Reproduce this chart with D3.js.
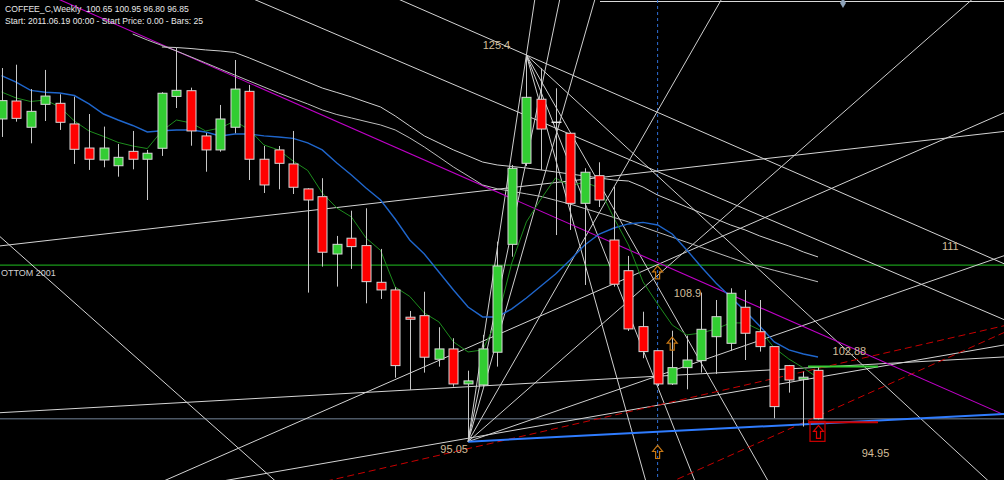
<!DOCTYPE html>
<html>
<head>
<meta charset="utf-8">
<script src="https://cdn.jsdelivr.net/npm/d3@7"></script>
<style>
  html, body { margin: 0; padding: 0; background: #000; }
  svg { display: block; }
</style>
</head>
<body>
<svg id="chart" width="1004" height="480"></svg>
<script>
// ---- Weekly coffee bars (index 0 = leftmost visible week) ----
const opens  = [120.38,121.79,119.73,121.53,121.61,119.99,118.10,117.16,116.71,117.84,
                117.22,118.08,122.15,122.60,119.05,117.95,119.73,122.55,117.22,117.95,
                116.85,114.89,114.28,109.78,111.02,110.44,107.56,106.96,104.82,104.94,
                101.52,102.33,99.58,99.50,102.07,110.54,116.90,121.93,120.12,119.26,
                113.76,115.93,110.88,108.47,104.08,102.19,99.58,100.86,101.41,103.29,
                102.77,105.60,103.68,102.51,101.02,99.95,100.65];
const highs  = [124.38,124.64,122.73,124.23,122.32,122.13,120.77,119.78,118.42,119.44,
                117.95,122.48,125.98,122.84,119.28,121.48,125.01,123.05,118.26,118.26,
                119.44,114.94,115.73,111.20,113.18,113.37,110.18,107.17,105.31,106.82,
                104.03,103.17,100.62,103.43,110.75,116.77,125.40,124.36,122.79,119.26,
                116.51,116.98,115.07,109.63,105.25,102.19,103.76,103.37,106.75,106.17,
                107.09,106.96,106.17,102.51,101.07,100.55,100.95];
const lows   = [118.97,120.17,118.47,120.22,119.52,116.85,116.38,116.59,115.85,116.43,
                114.02,117.48,121.24,118.28,116.24,117.81,119.26,115.59,114.57,114.86,
                114.49,106.75,108.79,107.22,108.61,105.91,106.25,100.07,99.11,100.47,
                100.94,99.37,95.05,99.37,100.94,109.57,116.69,116.38,111.27,111.67,
                107.35,113.47,107.22,103.74,101.60,99.42,99.50,99.16,100.47,100.36,
                102.19,101.46,102.12,96.89,98.90,96.23,96.80];
const closes = [121.82,120.43,120.98,122.18,120.12,118.00,117.22,118.10,117.37,117.22,
                117.69,122.40,122.63,119.44,117.95,120.38,122.73,117.22,115.20,116.90,
                115.02,114.02,109.92,110.54,110.36,107.61,106.96,101.02,104.66,101.68,
                102.33,99.58,99.82,102.33,108.84,116.51,122.08,119.59,120.12,113.76,
                116.20,114.02,107.41,103.90,102.12,99.58,100.86,101.46,103.87,104.86,
                106.70,103.56,102.51,97.80,99.89,100.11,96.85];

// ---- Moving averages ----
const maFast = [122.50,122.03,121.75,121.87,121.32,120.22,119.44,119.01,118.54,118.26,
                118.06,119.44,120.30,120.07,119.44,119.67,120.22,119.52,118.34,117.95,
                117.08,116.34,114.57,113.39,112.69,111.04,110.06,107.19,106.45,105.15,
                104.45,102.88,102.09,102.25,104.60,109.08,112.30,114.10,115.75,115.12,
                115.43,114.96,112.61,110.49,107.59,105.86,104.21,103.43,103.58,103.90,
                104.37,104.37,103.82,102.41,101.54,100.84,100.05];
const maSlow = [123.79,123.28,122.62,122.48,122.42,122.22,121.56,120.77,120.30,119.87,
                119.36,119.46,119.52,119.52,119.36,119.05,119.20,119.20,119.05,118.97,
                118.86,118.50,117.95,116.93,115.98,114.96,114.02,112.53,110.88,109.78,
                108.37,106.96,105.62,104.84,104.84,105.47,106.33,107.27,108.21,109.31,
                110.49,111.35,111.82,112.14,112.26,112.06,111.35,110.10,108.76,107.51,
                106.41,105.31,104.13,102.88,102.25,101.93,101.70];
// long-period averages drawn in white (null = not on screen)
const maLongA = [null,null,null,null,null,null,null,null,null,null,
                 null,126.03,125.99,125.91,125.80,125.72,125.60,125.17,124.70,124.23,
                 123.75,123.28,122.81,122.46,122.11,121.71,121.32,120.62,119.83,119.05,
                 118.50,117.95,117.48,117.00,116.77,116.65,116.53,116.38,116.22,116.06,
                 115.91,115.75,115.59,115.51,115.04,114.41,113.94,113.47,113.00,112.53,
                 112.06,111.67,111.20,110.80,110.41,109.94,109.55];
const maLongB = [null,null,null,null,null,null,null,null,null,
                 127.05,126.58,126.15,125.72,125.25,124.78,124.30,123.83,123.36,122.89,122.42,
                 121.99,121.56,121.09,120.73,120.46,120.18,119.91,119.52,118.89,118.18,
                 117.40,116.61,115.91,115.20,114.90,114.70,114.50,114.30,114.00,113.70,
                 113.35,113.00,112.65,112.30,111.90,111.50,111.10,110.70,110.30,109.90,
                 109.50,109.10,108.80,108.50,108.20,107.90,107.60];

// ---- Drawn objects: trend lines as [bar1, price1, bar2, price2, extendBack, extendForward] ----
const whiteLines = [
  [0.0, 110.43, 68.76, 119.40, true, true],
  [0.0, 97.33, 68.76, 101.70, true, true],
  [0.0, 111.04, 18.55, 92.20, true, true],
  [11.56, 92.18, 68.69, 120.83, true, true],
  [16.36, 92.20, 68.76, 102.64, true, true],
  [22.53, 127.23, 60.25, 108.79, true, true],
  [36, 125.40, 68.69, 109.05, true, true]
];
// fan rays from the 95.05 low and the 125.4 high
const fanLowOrigin  = [32, 95.05];
const fanLowTargets = [[36, 125.40], [39.9, 126.58], [33.73, 104.60], [45.16, 121.34],
                       [41.51, 104.60], [45.85, 100.55]];
const fanHighOrigin  = [36, 125.40];
const fanHighTargets = [[44.13, 92.20], [43.10, 104.86], [42.42, 112.45], [63.0, 96.91]];
const blueLine   = [32, 95.05, 68.69, 97.22];
const redDashed  = [[23.22, 92.20, 68.69, 104.13], [46.54, 92.20, 68.69, 103.58]];
const magentaLine = [23.22, 120.07, 68.48, 97.30];

// horizontal levels
const bottomLevel = 108.9;
const bidPrice = 96.85;
const lastHigh = 100.95, lastLow = 96.80;
const startBar = 45;   // vertical separator

// price labels [bar, price, text]
const priceLabels = [
  [33.0, 125.90, "125.4"],
  [30.1, 94.18,  "95.05"],
  [46.1, 106.4,  "108.9"],
  [57.0, 101.85, "102.88"],
  [59.0, 93.85,  "94.95"],
  [64.5, 110.1,  "111"]
];
const arrowMarks = [[45, 108.3], [46, 102.70], [45, 94.20]];

const titleLine1 = "COFFEE_C,Weekly  100.65 100.95 96.80 96.85";
const titleLine2 = "Start: 2011.06.19 00:00 - Start Price: 0.00 - Bars: 25";
const levelName = "OTTOM 2001";

// ---- Scales ----
const W = 1004, H = 480;
const svg = d3.select("#chart");
const x = d3.scaleLinear().domain([0, 56]).range([1.5, 818]);
const y = d3.scaleLinear().domain([92.04, 129.72]).range([H, 0]);

svg.append("rect").attr("width", W).attr("height", H).attr("fill", "#000");

const gLines = svg.append("g");

function extLine(x1, y1, x2, y2, back, fwd) {
  const k = 40;
  const dx = x2 - x1, dy = y2 - y1;
  const t0 = back ? -k : 0, t1 = fwd ? 1 + k : 1;
  return [x1 + dx * t0, y1 + dy * t0, x1 + dx * t1, y1 + dy * t1];
}
function drawLine(g, seg, color, width, dash) {
  const [a, b, c, d] = seg;
  g.append("line").attr("x1", a).attr("y1", b).attr("x2", c).attr("y2", d)
    .attr("stroke", color).attr("stroke-width", width)
    .attr("stroke-dasharray", dash || null);
}

// chart frame top edge
drawLine(gLines, [600, 1.5, W, 1.5], "#d8d8d8", 1);

// horizontal level and bid line
drawLine(gLines, [0, y(bottomLevel), W, y(bottomLevel)], "#1a9a1a", 1.3);
drawLine(gLines, [0, y(bidPrice), W, y(bidPrice)], "#4d5866", 1.3);
// vertical separator
drawLine(gLines, [x(startBar), 0, x(startBar), H], "#2f6fd6", 1, "3,3");

whiteLines.forEach(l => {
  drawLine(gLines, extLine(x(l[0]), y(l[1]), x(l[2]), y(l[3]), l[4], l[5]), "#d4d4d4", 1);
});
fanLowTargets.forEach(t => {
  drawLine(gLines, extLine(x(fanLowOrigin[0]), y(fanLowOrigin[1]), x(t[0]), y(t[1]), false, true), "#cfcfcf", 1);
});
fanHighTargets.forEach(t => {
  drawLine(gLines, extLine(x(fanHighOrigin[0]), y(fanHighOrigin[1]), x(t[0]), y(t[1]), false, true), "#cfcfcf", 1);
});
redDashed.forEach(l => {
  drawLine(gLines, extLine(x(l[0]), y(l[1]), x(l[2]), y(l[3]), true, true), "#c80000", 1, "7,4");
});
drawLine(gLines, extLine(x(magentaLine[0]), y(magentaLine[1]), x(magentaLine[2]), y(magentaLine[3]), true, true), "#c000c8", 1.1);
drawLine(gLines, extLine(x(blueLine[0]), y(blueLine[1]), x(blueLine[2]), y(blueLine[3]), false, true), "#2f7cff", 2);

// moving averages
const lineGen = d3.line().defined(d => d != null).x((d, i) => x(i)).y(d => y(d));
svg.append("path").datum(maLongA).attr("d", lineGen).attr("fill", "none").attr("stroke", "#d0d0d0").attr("stroke-width", 1);
svg.append("path").datum(maLongB).attr("d", lineGen).attr("fill", "none").attr("stroke", "#bdbdbd").attr("stroke-width", 1);
svg.append("path").datum(maSlow).attr("d", lineGen).attr("fill", "none").attr("stroke", "#1f66cc").attr("stroke-width", 1.4);
svg.append("path").datum(maFast).attr("d", lineGen).attr("fill", "none").attr("stroke", "#1d8c1d").attr("stroke-width", 1);

// candles
const gC = svg.append("g");
opens.forEach((o, i) => {
  const c = closes[i];
  const cx = Math.round(x(i)) + 0.5;
  gC.append("line").attr("x1", cx).attr("x2", cx).attr("y1", y(highs[i])).attr("y2", y(lows[i]))
    .attr("stroke", "#c8c8c8").attr("stroke-width", 1);
  if (o === c) {
    gC.append("line").attr("x1", cx - 5).attr("x2", cx + 5).attr("y1", y(o)).attr("y2", y(o))
      .attr("stroke", "#e6e6e6").attr("stroke-width", 1.5);
  } else {
    const top = y(Math.max(o, c)), bot = y(Math.min(o, c));
    gC.append("rect").attr("x", cx - 4.5).attr("y", top).attr("width", 9).attr("height", Math.max(1, bot - top))
      .attr("fill", c > o ? "#32cd32" : "#ff0000").attr("stroke", "#d8d8d8").attr("stroke-width", 1);
  }
});

// last-bar high/low markers
const lx = x(56);
drawLine(svg, [lx - 10, y(lastHigh), lx + 60, y(lastHigh)], "#33cc33", 2);
drawLine(svg, [lx - 10, y(lastLow) + 3, lx + 60, y(lastLow) + 3], "#cc0000", 2);

// signal arrows
function upArrow(g, cx, cy, color) {
  const p = [[0,-7],[5,-1],[2,-1],[2,6],[-2,6],[-2,-1],[-5,-1]].map(([a,b]) => [cx + a, cy + b]);
  g.append("path").attr("d", "M" + p.map(q => q.join(",")).join("L") + "Z")
    .attr("fill", "none").attr("stroke", color).attr("stroke-width", 1.2);
}
arrowMarks.forEach(a => upArrow(svg, x(a[0]), y(a[1]), "#c87814"));
svg.append("rect").attr("x", lx - 8).attr("y", y(lastLow) + 2).attr("width", 15).attr("height", 20)
  .attr("fill", "none").attr("stroke", "#cc0000").attr("stroke-width", 1.2);
upArrow(svg, lx + 0.5, y(lastLow) + 13, "#dd0000");

// small top marker
svg.append("path").attr("d", d3.symbol(d3.symbolDiamond, 30)())
  .attr("transform", "translate(843,3)").attr("fill", "#8da2b8");

// text
const fontFam = "'Liberation Sans', Arial, sans-serif";
priceLabels.forEach(l => {
  svg.append("text").attr("x", x(l[0])).attr("y", y(l[1])).text(l[2])
    .attr("font-family", fontFam).attr("font-size", 11).attr("fill", "#d2bd9a");
});
svg.append("text").attr("x", 1).attr("y", y(bottomLevel) + 11).text(levelName)
  .attr("font-family", fontFam).attr("font-size", 9).attr("fill", "#d0d0d0");
svg.append("text").attr("x", 5).attr("y", 11.5).text(titleLine1)
  .attr("font-family", fontFam).attr("font-size", 8.6).attr("fill", "#e8e8e8").attr("xml:space", "preserve");
svg.append("text").attr("x", 5).attr("y", 23.5).text(titleLine2)
  .attr("font-family", fontFam).attr("font-size", 8.6).attr("fill", "#e8e8e8");
</script>
</body>
</html>
